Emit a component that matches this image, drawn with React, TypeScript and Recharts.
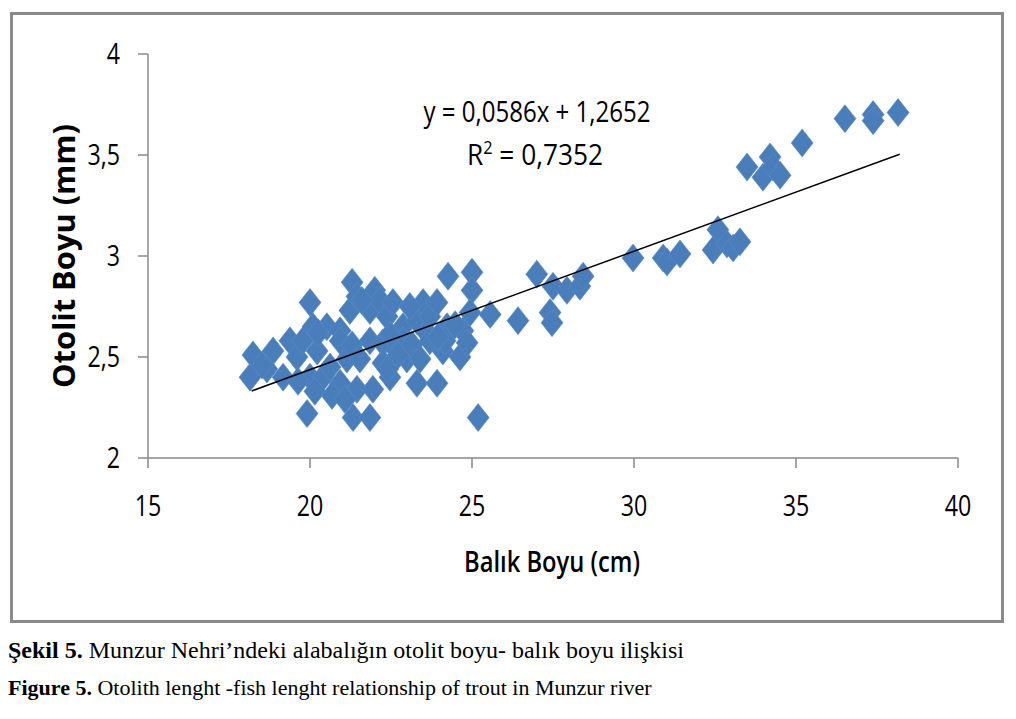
import React from 'react';
import { ScatterChart, Scatter, XAxis, YAxis, Label } from 'recharts';

const fishLength = [
  18.24, 18.15, 18.86, 18.67, 18.52, 19.38, 19.6, 19.78, 20.0, 20.09, 20.22, 20.0, 19.91, 20.4, 20.52,
  20.62, 20.93, 20.93, 21.14, 21.23, 21.3, 21.45, 21.45, 21.33, 21.85, 21.85, 21.85, 21.94, 22.0, 22.16,
  22.25, 22.25, 22.38, 22.47, 22.56, 22.69, 22.87, 22.87, 22.99, 23.3, 23.3, 23.49, 23.61, 23.7, 23.7,
  23.92, 23.92, 24.1, 24.23, 24.26, 24.32, 24.63, 24.72, 24.85, 25.0, 25.0, 24.94, 25.19, 25.56, 26.42,
  27.0, 27.41, 27.47, 27.5, 27.93, 28.33, 28.43, 29.97, 30.9, 31.02, 31.42, 32.59, 32.44, 32.87, 33.06,
  33.27, 33.49, 33.98, 34.2, 34.29, 34.51, 35.19, 36.51, 37.38, 37.38, 38.15,
  19.17, 19.63, 20.15, 20.68, 21.08, 20.93, 21.3, 21.54, 22.47, 22.72, 23.15, 23.4, 24.17, 24.48, 20.25,
  21.6, 23.08, 22.4, 23.95,
];
const otolithLength = [
  2.51, 2.4, 2.53, 2.44, 2.46, 2.58, 2.5, 2.58, 2.77, 2.65, 2.53, 2.4, 2.22, 2.4, 2.65,
  2.45, 2.63, 2.37, 2.49, 2.73, 2.87, 2.8, 2.34, 2.2, 2.73, 2.58, 2.2, 2.34, 2.83, 2.78,
  2.57, 2.47, 2.7, 2.4, 2.77, 2.53, 2.65, 2.58, 2.49, 2.68, 2.37, 2.77, 2.62, 2.7, 2.58,
  2.77, 2.37, 2.53, 2.65, 2.9, 2.63, 2.5, 2.63, 2.57, 2.92, 2.83, 2.72, 2.2, 2.71, 2.68,
  2.91, 2.72, 2.67, 2.85, 2.83, 2.85, 2.9, 2.99, 2.99, 2.97, 3.01, 3.13, 3.03, 3.06, 3.04,
  3.07, 3.44, 3.39, 3.49, 3.44, 3.4, 3.56, 3.68, 3.7, 3.67, 3.71,
  2.4, 2.38, 2.33, 2.31, 2.29, 2.58, 2.56, 2.49, 2.61, 2.51, 2.56, 2.49, 2.58, 2.66, 2.62,
  2.78, 2.75, 2.44, 2.6,
];
const trendX = [18.2, 38.2];
const trendY = [2.332, 3.504];
const xTicks = [15, 20, 25, 30, 35, 40];
const yTicks = [2, 2.5, 3, 3.5, 4];
const xTitle = 'Balık Boyu (cm)';
const yTitle = 'Otolit Boyu (mm)';
const equation = 'y = 0,0586x + 1,2652';
const rSquared = '0,7352';
const caption1Bold = 'Şekil 5.';
const caption1 = ' Munzur Nehri’ndeki alabalığın otolit boyu- balık boyu ilişkisi';
const caption2Bold = 'Figure 5.';
const caption2 = ' Otolith lenght -fish lenght relationship of trout in Munzur river';

const points = fishLength.map((x, i) => ({ x, y: otolithLength[i] }));
const trend = trendX.map((x, i) => ({ x, y: trendY[i] }));

const FONT = '"Open Sans", "DejaVu Sans", sans-serif';
const SERIF = '"Liberation Serif", "Times New Roman", serif';
const BLUE = '#4a7ebb';

const fmt = (v: number) => String(v).replace('.', ',');

const Diamond = (props: any) => {
  const { cx, cy } = props;
  if (cx == null || cy == null) return <g />;
  const w = 11;
  const h = 14;
  return (
    <polygon
      points={`${cx},${cy - h} ${cx + w},${cy} ${cx},${cy + h} ${cx - w},${cy}`}
      fill={BLUE}
      stroke="#5b8bc6"
      strokeWidth={0.6}
    />
  );
};

const NoShape = () => <g />;

const YTick = (props: any) => {
  const { x, y, payload } = props;
  return (
    <g transform={`translate(${x},${y})`}>
      <text transform="scale(0.8,1)" textAnchor="end" dy={10} fontSize={29} fontFamily={FONT} fill="#000">
        {fmt(payload.value)}
      </text>
    </g>
  );
};

const XTick = (props: any) => {
  const { x, y, payload } = props;
  return (
    <g transform={`translate(${x},${y})`}>
      <text transform="scale(0.8,1)" textAnchor="middle" dy={48} fontSize={29} fontFamily={FONT} fill="#000">
        {fmt(payload.value)}
      </text>
    </g>
  );
};

const YTitle = (props: any) => {
  const vb = props.viewBox || { x: 0, y: 0, width: 0, height: 0 };
  const cx = vb.x + 47;
  const cy = vb.y + vb.height / 2;
  return (
    <text
      transform={`translate(${cx},${cy}) rotate(-90)`}
      textAnchor="middle"
      fontSize={30}
      fontWeight={700}
      fontFamily={FONT}
      fill="#000"
      textLength={264}
      lengthAdjust="spacingAndGlyphs"
    >
      {yTitle}
    </text>
  );
};

const XTitle = (props: any) => {
  const vb = props.viewBox || { x: 0, y: 0, width: 0, height: 0 };
  const cx = vb.x + vb.width / 2 - 1;
  const cy = vb.y + 114;
  return (
    <text
      x={cx}
      y={cy}
      textAnchor="middle"
      fontSize={28}
      fontWeight={600}
      fontFamily={FONT}
      fill="#000"
      textLength={176}
      lengthAdjust="spacingAndGlyphs"
    >
      {xTitle}
    </text>
  );
};

export default function App() {
  return (
    <div style={{ position: 'relative', width: 1000, height: 700 }}>
      <div
        style={{
          position: 'absolute',
          left: 2,
          top: 4,
          width: 994,
          height: 611,
          boxSizing: 'border-box',
          border: '3px solid #8a8a8a',
        }}
      />
      <div style={{ position: 'absolute', left: 0, top: 0 }}>
        <ScatterChart width={1000} height={620} margin={{ top: 46, right: 50, bottom: 40, left: 20 }}>
          <XAxis
            type="number"
            dataKey="x"
            domain={[15, 40]}
            ticks={xTicks}
            interval={0}
            allowDataOverflow
            stroke="#888"
            strokeWidth={1.5}
            tickSize={10}
            tickMargin={0}
            tick={<XTick />}
            height={130}
          >
            <Label content={<XTitle />} />
          </XAxis>
          <YAxis
            type="number"
            dataKey="y"
            domain={[2, 4]}
            ticks={yTicks}
            interval={0}
            allowDataOverflow
            stroke="#888"
            strokeWidth={1.5}
            tickSize={10}
            tickMargin={18}
            tick={<YTick />}
            width={120}
          >
            <Label content={<YTitle />} />
          </YAxis>
          <Scatter data={points} shape={<Diamond />} isAnimationActive={false} />
          <Scatter
            data={trend}
            line={{ stroke: '#000', strokeWidth: 1.5 }}
            shape={<NoShape />}
            isAnimationActive={false}
          />
        </ScatterChart>
      </div>
      <svg
        width={1000}
        height={620}
        style={{ position: 'absolute', left: 0, top: 0, pointerEvents: 'none' }}
      >
        <text
          x={529}
          y={114}
          textAnchor="middle"
          fontSize={29}
          fontFamily={FONT}
          fill="#000"
          textLength={227}
          lengthAdjust="spacingAndGlyphs"
        >
          {equation}
        </text>
        <text x={459} y={157} fontSize={29} fontFamily={FONT} fill="#000" textLength={136} lengthAdjust="spacingAndGlyphs">
          R
          <tspan fontSize={18} dy={-11}>2</tspan>
          <tspan dy={11}>{' = ' + rSquared}</tspan>
        </text>
      </svg>
      <div
        style={{
          position: 'absolute',
          left: 0,
          top: 630,
          fontFamily: SERIF,
          fontSize: 24,
          lineHeight: 1,
          whiteSpace: 'nowrap',
          color: '#000',
        }}
      >
        <b>{caption1Bold}</b>
        {caption1}
      </div>
      <div
        style={{
          position: 'absolute',
          left: 0,
          top: 669,
          fontFamily: SERIF,
          fontSize: 22,
          lineHeight: 1,
          whiteSpace: 'nowrap',
          color: '#000',
        }}
      >
        <b>{caption2Bold}</b>
        {caption2}
      </div>
    </div>
  );
}
